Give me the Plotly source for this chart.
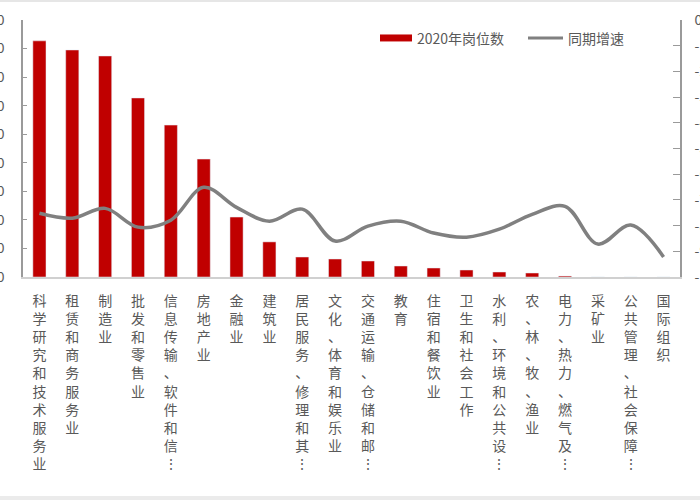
import plotly.graph_objects as go

# 2020 job postings by industry and year-on-year change
categories = [
    "科学研究和技术服务业",
    "租赁和商务服务业",
    "制造业",
    "批发和零售业",
    "信息传输、软件和信…",
    "房地产业",
    "金融业",
    "建筑业",
    "居民服务、修理和其…",
    "文化、体育和娱乐业",
    "交通运输、仓储和邮…",
    "教育",
    "住宿和餐饮业",
    "卫生和社会工作",
    "水利、环境和公共设…",
    "农、林、牧、渔业",
    "电力、热力、燃气及…",
    "采矿业",
    "公共管理、社会保障…",
    "国际组织",
]
jobs_2020 = [82700, 79500, 77400, 62700, 53200, 41300, 21000, 12300, 7000, 6300,
             5600, 3850, 3150, 2450, 1750, 1400, 350, 0, 0, 0]
yoy_growth = [-75.2, -77.1, -73.3, -80.6, -77.9, -65.1, -72.9, -78.3, -73.6, -86.0,
              -80.2, -78.3, -82.9, -84.5, -81.4, -75.6, -72.5, -87.2, -79.8, -92.2]

left_ticks = list(range(0, 90001, 10000))
right_ticks = list(range(-100, 1, 10))

RED = "#C00000"
GRAY_LINE = "#808080"
AXIS = "#9a9a9a"
TEXT = "#595959"
FONT = "Noto Sans CJK SC"

# plot area in pixels (700x500 page)
L, R, T, B = 23, 680, 20, 277.5


def px_x(x):
    return (x - L) / (R - L)


def px_y(y):
    return (B - y) / (B - T)


def vertical(label):
    # stack characters so the labels read top to bottom
    return "<br>".join("⋮" if ch == "…" else ch for ch in label)


fig = go.Figure()
fig.add_trace(go.Bar(
    x=categories,
    y=jobs_2020,
    name="2020年岗位数",
    marker_color=RED,
    width=0.4,
))
fig.add_trace(go.Scatter(
    x=categories,
    y=yoy_growth,
    name="同期增速",
    mode="lines",
    line=dict(color=GRAY_LINE, width=3.5, shape="spline", smoothing=1.0),
    yaxis="y2",
))

# legend drawn by hand to get the wide swatches
shapes = [
    dict(type="rect", xref="paper", yref="paper",
         x0=px_x(380), x1=px_x(412), y0=px_y(41.5), y1=px_y(34.5),
         fillcolor=RED, line_width=0),
    dict(type="line", xref="paper", yref="paper",
         x0=px_x(528), x1=px_x(563), y0=px_y(38), y1=px_y(38),
         line=dict(color=GRAY_LINE, width=3)),
    dict(type="rect", xref="paper", yref="paper",
         x0=px_x(-5), x1=px_x(705), y0=px_y(2), y1=px_y(-5),
         fillcolor="#e6e6e6", line_width=0),
    dict(type="rect", xref="paper", yref="paper",
         x0=px_x(-5), x1=px_x(705), y0=px_y(505), y1=px_y(497),
         fillcolor="#ebebeb", line_width=0),
]
annotations = [
    dict(text="2020年岗位数", xref="paper", yref="paper", x=px_x(415), y=px_y(38),
         xanchor="left", yanchor="middle", showarrow=False,
         font=dict(size=14, color=TEXT, family=FONT)),
    dict(text="同期增速", xref="paper", yref="paper", x=px_x(566), y=px_y(38),
         xanchor="left", yanchor="middle", showarrow=False,
         font=dict(size=14, color=TEXT, family=FONT)),
]

fig.update_layout(
    width=700,
    height=500,
    margin=dict(l=L, r=700 - R, t=T, b=500 - B),
    paper_bgcolor="white",
    plot_bgcolor="white",
    showlegend=False,
    font=dict(family=FONT, color=TEXT, size=14),
    shapes=shapes,
    annotations=annotations,
    xaxis=dict(
        tickmode="array",
        tickvals=categories,
        ticktext=[vertical(c) for c in categories],
        tickangle=0,
        showline=True,
        linecolor="#d0d0d0",
        linewidth=1.5,
        ticks="",
        showgrid=False,
        automargin=False,
        ticklabelstandoff=10,
        tickfont=dict(size=14, color=TEXT, family=FONT),
    ),
    yaxis=dict(
        range=[0, 90000],
        tickvals=left_ticks,
        ticktext=[str(v) for v in left_ticks],
        showline=True,
        linecolor=AXIS,
        linewidth=1.5,
        ticks="inside",
        ticklen=4,
        tickcolor=AXIS,
        showgrid=False,
        zeroline=False,
        automargin=False,
        ticklabelstandoff=14,
        tickfont=dict(size=14, color=TEXT, family=FONT),
    ),
    yaxis2=dict(
        overlaying="y",
        side="right",
        range=[-100, 0],
        tickvals=right_ticks,
        ticktext=[f"{v}%" for v in right_ticks],
        showline=True,
        linecolor=AXIS,
        linewidth=1.5,
        ticks="inside",
        ticklen=7,
        tickcolor=AXIS,
        showgrid=False,
        zeroline=False,
        automargin=False,
        ticklabelstandoff=10,
        tickfont=dict(size=14, color=TEXT, family=FONT),
    ),
)

# drop the default page margin so the figure sits at the window's corner
fig.write_html(
    "out.html",
    config={"displayModeBar": False},
    post_script="document.body.style.margin='0';document.body.style.overflow='hidden';",
)
